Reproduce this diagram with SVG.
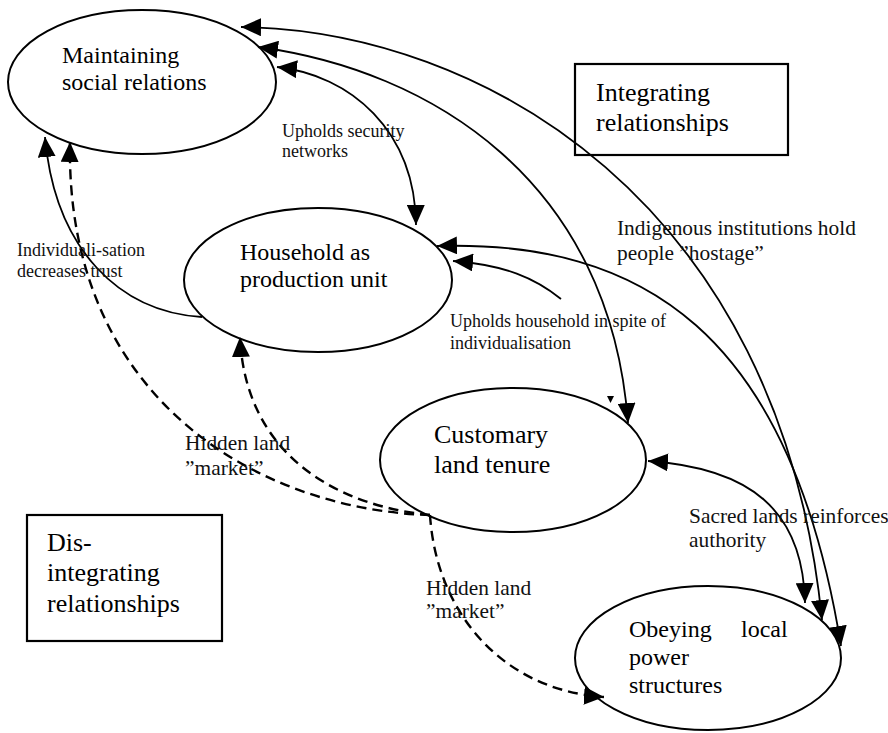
<svg xmlns="http://www.w3.org/2000/svg" width="888" height="733" viewBox="0 0 888 733">
<style>
.node{fill:#fff;stroke:#000;stroke-width:2}
.box{fill:#fff;stroke:#000;stroke-width:2.2}
.nt{font-family:"Times New Roman","Liberation Serif",serif;font-size:24px;font-weight:normal;fill:#000}
.ct{font-family:"Times New Roman","Liberation Serif",serif;font-size:26px;font-weight:normal;fill:#000}
.lb{font-family:"Liberation Serif","Times New Roman",serif;font-size:18px;fill:#111}
.lg{font-family:"Liberation Serif","Times New Roman",serif;font-size:21.4px;fill:#111}
.c{fill:none;stroke:#000;stroke-width:1.8}
.d{fill:none;stroke:#000;stroke-width:2.4;stroke-dasharray:10 6}
</style>
<defs>
<marker id="ah" markerUnits="userSpaceOnUse" markerWidth="20" markerHeight="18" refX="20" refY="9" orient="auto-start-reverse" viewBox="0 0 20 18">
<path d="M0,0 L20,9 L0,18 z" fill="#000"/>
</marker>
</defs>
<rect width="888" height="733" fill="#fff"/>
<g id="box-integrating">
<rect class="box" x="575" y="64" width="213" height="91"/>
<text class="ct" x="596" y="101">Integrating</text>
<text class="ct" x="596" y="131">relationships</text>
</g>
<g id="box-disintegrating">
<rect class="box" x="27" y="515" width="195" height="126"/>
<text class="ct" x="47" y="551">Dis-</text>
<text class="ct" x="47" y="581">integrating</text>
<text class="ct" x="47" y="612">relationships</text>
</g>
<g id="maintaining">
<ellipse class="node" cx="142" cy="82" rx="134" ry="72"/>
<text class="nt" x="62" y="63">Maintaining</text>
<text class="nt" x="62" y="90">social relations</text>
</g>
<g id="household">
<ellipse class="node" cx="318" cy="280" rx="134" ry="72"/>
<text class="nt" x="240" y="260">Household as</text>
<text class="nt" x="240" y="287">production unit</text>
</g>
<g id="customary">
<ellipse class="node" cx="513" cy="460" rx="133" ry="72"/>
<text class="ct" x="434" y="443">Customary</text>
<text class="ct" x="434" y="473">land tenure</text>
</g>
<g id="obeying">
<ellipse class="node" cx="708" cy="658" rx="133" ry="72"/>
<text class="nt" x="629" y="637">Obeying</text>
<text class="nt" x="741" y="637">local</text>
<text class="nt" x="629" y="665">power</text>
<text class="nt" x="629" y="693">structures</text>
</g>
<g id="connectors">
<path class="c" d="M277,67 C350,75 415,130 416,225" marker-start="url(#ah)" marker-end="url(#ah)"/>
<path class="c" d="M258,47 C430,70 610,180 628,423" marker-start="url(#ah)" marker-end="url(#ah)"/>
<path class="c" d="M241,27 C480,30 780,200 822,620" marker-start="url(#ah)" marker-end="url(#ah)"/>
<path class="c" d="M437,246 C640,240 790,330 841,646" marker-start="url(#ah)" marker-end="url(#ah)"/>
<path class="c" d="M561,299 C535,278 505,265 453,261" marker-end="url(#ah)"/>
<path class="c" d="M202,317 C120,312 55,250 45,137" marker-end="url(#ah)"/>
<path class="c" d="M648,461 C750,468 803,510 805,603" marker-start="url(#ah)" marker-end="url(#ah)"/>
<path class="d" d="M430,515 C260,510 65,400 70,142" marker-end="url(#ah)"/>
<path class="d" d="M430,515 C330,505 245,450 240,337" marker-end="url(#ah)"/>
<path class="d" d="M430,515 C436,610 500,690 604,697" marker-end="url(#ah)"/>
<polygon points="607,396 614,396 610.5,403" fill="#000"/>
</g>
<g id="labels">
<text class="lb" x="282" y="137">Upholds security</text>
<text class="lb" x="282" y="157">networks</text>
<text class="lb" x="17" y="256">Individuali-sation</text>
<text class="lb" x="17" y="277">decreases trust</text>
<text class="lb" x="450" y="327">Upholds household in spite of</text>
<text class="lb" x="450" y="349">individualisation</text>
<text class="lg" x="617" y="235">Indigenous institutions hold</text>
<text class="lg" x="617" y="260">people ”hostage”</text>
<text class="lg" x="185" y="450">Hidden land</text>
<text class="lg" x="185" y="475">”market”</text>
<text class="lg" x="426" y="595">Hidden land</text>
<text class="lg" x="426" y="618">”market”</text>
<text class="lg" x="689" y="523">Sacred lands reinforces</text>
<text class="lg" x="689" y="547">authority</text>
</g>
</svg>
